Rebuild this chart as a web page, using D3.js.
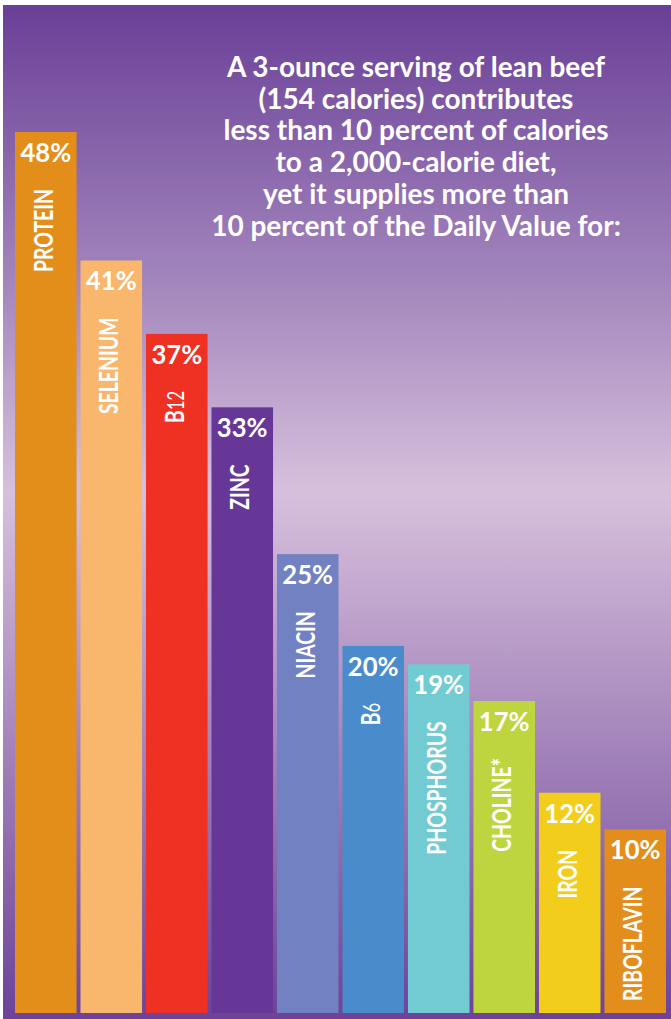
<!DOCTYPE html>
<html>
<head>
<meta charset="utf-8">
<script src="https://cdn.jsdelivr.net/npm/d3@7"></script>
<style>
  body { margin: 0; background: #fff; }
  svg text { font-family: Lato, "Open Sans", sans-serif; font-weight: bold; fill: #fff; }
</style>
</head>
<body>
<script>
var nutrients = ["PROTEIN", "SELENIUM", "B12", "ZINC", "NIACIN", "B6", "PHOSPHORUS", "CHOLINE*", "IRON", "RIBOFLAVIN"];
var percents = [48, 41, 37, 33, 25, 20, 19, 17, 12, 10];
var barColors = ["#e38e1a", "#f8b76d", "#ef3123", "#673797", "#7281c1", "#4a8ccb", "#72cad2", "#bfd540", "#f2cd1c", "#e38e1a"];
var titleLines = [
    "A 3-ounce serving of lean beef",
    "(154 calories) contributes",
    "less than 10 percent of calories",
    "to a 2,000-calorie diet,",
    "yet it supplies more than",
    "10 percent of the Daily Value for:"
];

var svgWidth = 671;
var svgHeight = 1019;
var margin = {top: 5, right: 5, bottom: 6, left: 15};

var svg = d3.select("body")
        .append("svg")
        .attr("width", svgWidth)
        .attr("height", svgHeight);

var grad = svg.append("defs").append("linearGradient")
        .attr("id", "bg")
        .attr("x1", 0).attr("y1", 0).attr("x2", 0).attr("y2", 1);
[[0, "#6a3f97"], [0.27, "#a285bc"], [0.48, "#d7c0dc"], [0.78, "#9a78b4"], [1, "#6d4298"]].forEach(function (s) {
    grad.append("stop").attr("offset", s[0]).attr("stop-color", s[1]);
});

svg.append("rect")
        .attr("x", 3)
        .attr("y", 5)
        .attr("width", svgWidth - 3)
        .attr("height", svgHeight - 5)
        .attr("fill", "url(#bg)");

var xScale = d3.scaleBand()
        .domain(nutrients)
        .range([margin.left, svgWidth - margin.right])
        .paddingInner(0.06)
        .paddingOuter(0);

var yScale = d3.scaleLinear()
        .domain([0, 48])
        .range([svgHeight - margin.bottom, 132]);

var data = nutrients.map(function (n, i) {
    return {name: n, value: percents[i], color: barColors[i]};
});

var bars = svg.selectAll(".bar")
        .data(data)
        .enter()
        .append("g")
        .attr("class", "bar");

bars.append("rect")
        .attr("x", function (d) { return xScale(d.name); })
        .attr("y", function (d) { return yScale(d.value); })
        .attr("width", xScale.bandwidth())
        .attr("height", function (d) { return yScale(0) - yScale(d.value); })
        .attr("fill", function (d) { return d.color; });

// value labels
bars.append("text")
        .attr("text-anchor", "middle")
        .attr("font-size", 27)
        .attr("transform", function (d) {
            var cx = xScale(d.name) + xScale.bandwidth() / 2;
            return "translate(" + cx + "," + (yScale(d.value) + 30) + ") scale(0.95,1)";
        })
        .text(function (d) { return d.value + "%"; });

// rotated category labels
var names = bars.append("text")
        .attr("text-anchor", "end")
        .attr("font-size", 27)
        .attr("transform", function (d) {
            var cx = xScale(d.name) + xScale.bandwidth() / 2 + 7;
            return "translate(" + cx + "," + (yScale(d.value) + 57) + ") rotate(-90) scale(0.72,1)";
        });

names.each(function (d) {
    var t = d3.select(this);
    var m = d.name.match(/^B(\d+)$/);
    if (m) {
        t.append("tspan").text("B");
        t.append("tspan").attr("font-size", 23).attr("font-weight", "normal").text(m[1]);
    } else {
        t.text(d.name);
    }
});

// title
svg.append("text")
        .attr("text-anchor", "middle")
        .attr("font-size", 28)
        .attr("transform", "translate(416,0)")
        .selectAll("tspan")
        .data(titleLines)
        .enter()
        .append("tspan")
        .attr("x", 0)
        .attr("y", function (d, i) { return 77 + i * 31.7; })
        .text(function (d) { return d; });
</script>
</body>
</html>
